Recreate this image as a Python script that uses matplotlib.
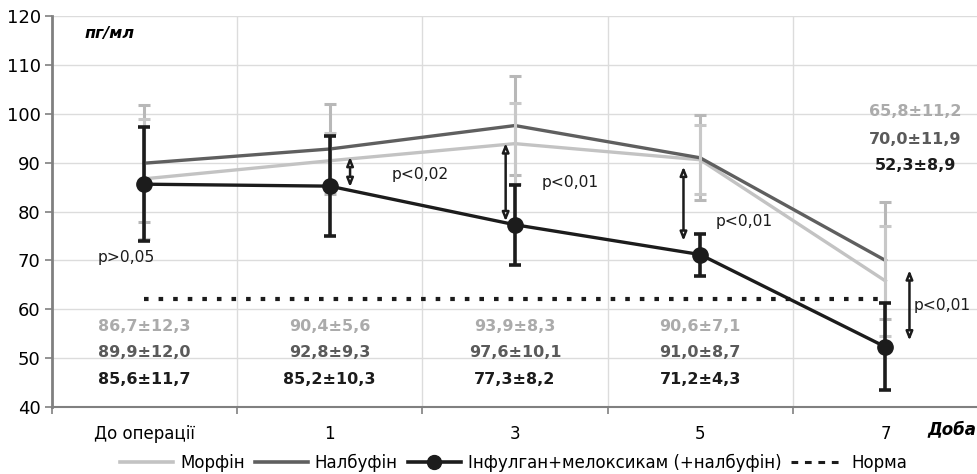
import matplotlib
matplotlib.use("Agg")
import matplotlib.pyplot as plt
from matplotlib.lines import Line2D

plt.rcParams['font.family'] = ['DejaVu Sans']

categories = ["До операції", "1", "3", "5", "7"]
morphine = [86.7, 90.4, 93.9, 90.6, 65.8]
morphine_sd = [12.3, 5.6, 8.3, 7.1, 11.2]
nalbuphine = [89.9, 92.8, 97.6, 91.0, 70.0]
nalbuphine_sd = [12.0, 9.3, 10.1, 8.7, 11.9]
infulgan = [85.6, 85.2, 77.3, 71.2, 52.3]
infulgan_sd = [11.7, 10.3, 8.2, 4.3, 8.9]
norm_value = 62.2
series_names = ["Морфін", "Налбуфін", "Інфулган+мелоксикам (+налбуфін)", "Норма"]
p_labels = ["p>0,05", "p<0,02", "p<0,01", "p<0,01", "p<0,01"]

c_light = "#c3c3c3"
c_dark = "#5f5f5f"
c_black = "#1c1c1c"

fig = plt.figure(figsize=(9.78, 4.74), dpi=100)
ax = fig.add_axes([0.053, 0.1414, 0.947, 0.8246])
x = list(range(len(categories)))

ax.set_xlim(-0.5, 4.48)
ax.set_ylim(40, 120)
ax.set_yticks(range(40, 121, 10))
ax.set_xticks([-0.5, 0.5, 1.5, 2.5, 3.5, 4.5])
ax.set_xticklabels([])
ax.set_xticks(x, minor=True)
ax.set_xticklabels(categories, minor=True)
ax.tick_params(axis='x', which='minor', length=0, pad=13, labelsize=12)
ax.tick_params(axis='x', which='major', length=5, width=1.2, color="#808080", direction='out')
ax.tick_params(axis='y', length=5, width=1.2, color="#808080", labelsize=13, pad=3)
ax.grid(True, which='major', color="#dcdcdc", lw=1)
ax.set_axisbelow(True)
for s in ['top', 'right']:
    ax.spines[s].set_visible(False)
ax.spines['left'].set_color("#808080")
ax.spines['left'].set_linewidth(2)
ax.spines['bottom'].set_color("#808080")
ax.spines['bottom'].set_linewidth(1.5)

# lines
ax.plot(x, morphine, color=c_light, lw=2.4, zorder=3)
ax.plot(x, nalbuphine, color=c_dark, lw=2.4, zorder=3)
# gray error bars
ax.errorbar(x, nalbuphine, yerr=nalbuphine_sd, fmt='none', ecolor="#b8b8b8", elinewidth=2.2, capsize=4, capthick=2.2, zorder=4)
ax.errorbar(x, morphine, yerr=morphine_sd, fmt='none', ecolor="#c8c8c8", elinewidth=2.2, capsize=4, capthick=2.2, zorder=4)
# norm
ax.plot([0, 4], [norm_value, norm_value], color=c_black, lw=3, dashes=(1.1, 2.4), zorder=4)
# black series
ax.errorbar(x, infulgan, yerr=infulgan_sd, fmt='none', ecolor=c_black, elinewidth=2.6, capsize=4, capthick=2.6, zorder=5)
ax.plot(x, infulgan, color=c_black, lw=2.4, marker='o', markersize=11, zorder=6)

# arrows
arrows = [(1.11, 91.2, 85.0), (1.95, 94.0, 78.0), (2.91, 89.2, 74.0), (4.13, 68.0, 53.6)]
for ax_x, y1, y2 in arrows:
    ax.annotate("", xy=(ax_x, y2), xytext=(ax_x, y1),
                arrowprops=dict(arrowstyle='<|-|>,head_length=0.5,head_width=0.2', color=c_black, lw=1.8,
                                shrinkA=0, shrinkB=0, fc='white'), zorder=7)

p_pos = [(-0.1, 70.5, 'center'), (1.49, 87.5, 'center'), (2.3, 86.0, 'center'),
         (3.24, 78.0, 'center'), (4.152, 60.8, 'left')]
for (px, py, ha), t in zip(p_pos, p_labels):
    ax.text(px, py, t, fontsize=11.2, color=c_black, ha=ha, va='center', zorder=8)

# value labels
rows_low = [56.4, 51.1, 45.6]
rows_high = [100.4, 94.8, 89.5]
colors = ["#ababab", "#5a5a5a", c_black]
for i in range(len(categories)):
    vals = [(morphine[i], morphine_sd[i]), (nalbuphine[i], nalbuphine_sd[i]), (infulgan[i], infulgan_sd[i])]
    if i == 4:
        xi, ys = 4.16, rows_high
    else:
        xi, ys = i, rows_low
    for (m, s), yy, c in zip(vals, ys, colors):
        txt = f"{m:.1f}±{s:.1f}".replace('.', ',')
        ax.text(xi, yy, txt, fontsize=11.5, fontweight='bold', color=c, ha='center', va='center', zorder=8)

ax.text(0.035, 0.955, "пг/мл", transform=ax.transAxes, fontsize=11.5, fontweight='bold', style='italic',
        ha='left', va='center')
fig.text(0.998, 0.094, "Доба", fontsize=12, fontweight='bold', style='italic', ha='right', va='center')

handles = [Line2D([], [], color=c_light, lw=2.6),
           Line2D([], [], color=c_dark, lw=2.6),
           Line2D([], [], color=c_black, lw=2.6, marker='o', markersize=10),
           Line2D([], [], color=c_black, lw=2.2, dashes=(2.2, 2.2))]
fig.legend(handles, series_names, loc='center', bbox_to_anchor=(0.525, 0.024), ncol=4, frameon=False,
           fontsize=12, handlelength=3.2, handletextpad=0.4, columnspacing=0.6, borderpad=0)

fig.savefig("out.png", dpi=100)
